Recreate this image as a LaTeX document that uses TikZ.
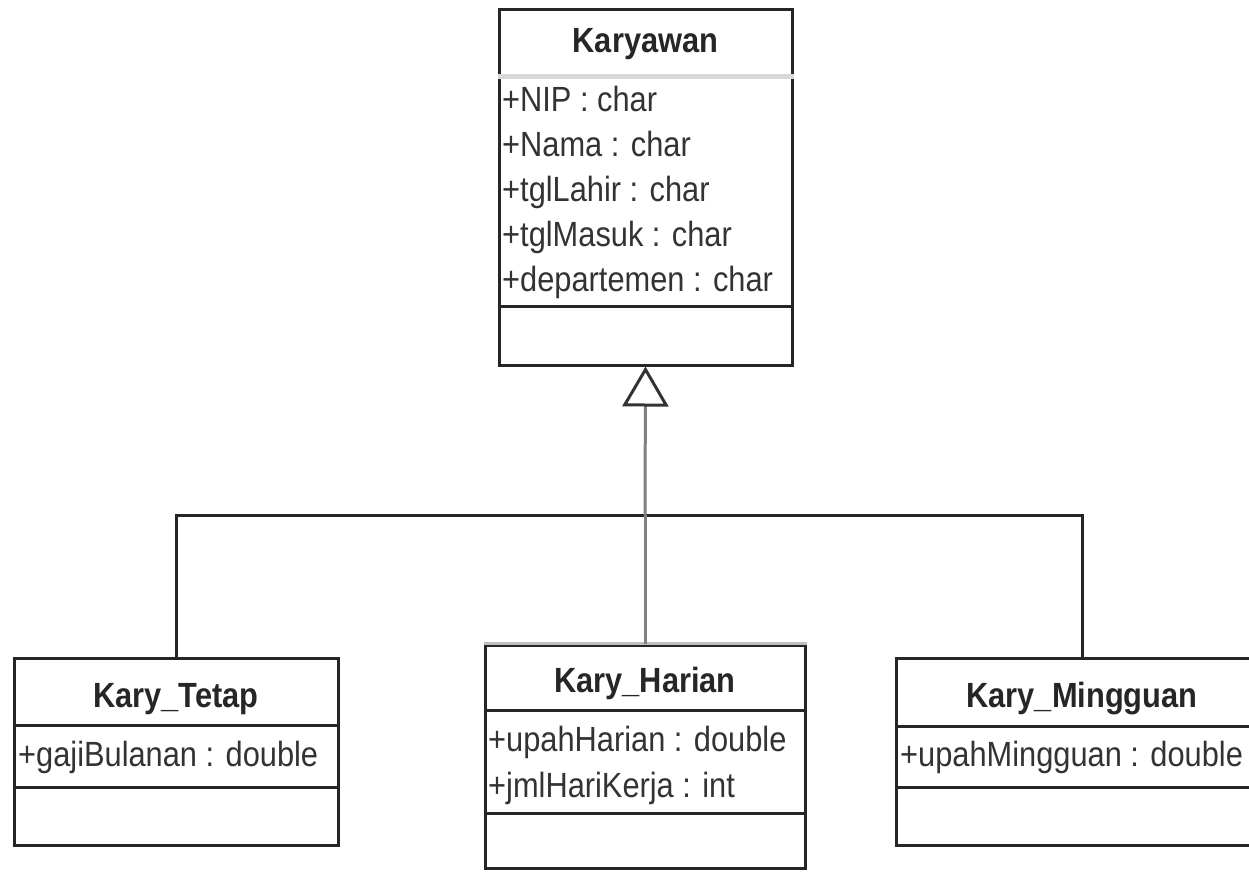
\documentclass[tikz,border=0pt]{standalone}
\usepackage{fontspec}
\setmainfont{Liberation Sans}[FakeStretch=0.88]
\usetikzlibrary{arrows.meta}
\begin{document}
\begin{tikzpicture}[x=1pt,y=-1pt,
  box/.style={draw=black!85, line width=3pt, fill=white, inner sep=0pt},
  sep/.style={draw=black!85, line width=3pt},
  lsep/.style={draw=black!15, line width=5pt},
  title/.style={font=\fontsize{35}{42}\selectfont\bfseries, text=black!85, inner sep=0pt, anchor=base},
  attr/.style={font=\fontsize{35}{42}\selectfont, text=black!80, inner sep=0pt, anchor=base west},
  conn/.style={line width=3pt, draw=black!85},
  gconn/.style={line width=3pt, draw=black!50}]
\useasboundingbox (0,0) rectangle (1249,880);
\clip (0,0) rectangle (1249,880);

% ---- Karyawan ----
\node[box, minimum width=293pt, minimum height=355pt] (kary) at (645.5,187.5) {};
\draw[lsep] ([yshift=-68pt]kary.north west) -- ([yshift=-68pt]kary.north east);
\draw[sep] ([yshift=60pt]kary.south west) -- ([yshift=60pt]kary.south east);
\node[title] (karyT) at (645.5,53) {Karyawan};
\node[attr] (k1) at (502,111) {+NIP : char};
\node[attr] (k2) at (502,156) {+Nama : char};
\node[attr] (k3) at (502,201) {+tglLahir : char};
\node[attr] (k4) at (502,246) {+tglMasuk : char};
\node[attr] (k5) at (502,291) {+departemen : char};

% ---- Kary_Tetap ----
\node[box, minimum width=324pt, minimum height=187pt] (tetap) at (176,751.5) {};
\draw[sep] ([yshift=-69pt]tetap.north west) -- ([yshift=-69pt]tetap.north east);
\draw[sep] ([yshift=59pt]tetap.south west) -- ([yshift=59pt]tetap.south east);
\node[title] (tetapT) at (176,707) {Kary\_Tetap};
\node[attr] (t1) at (18,766) {+gajiBulanan : double};

% ---- Kary_Harian ----
\node[box, minimum width=320pt, minimum height=223pt] (harian) at (645,756.5) {};
\draw[draw=black!25, line width=3pt] (harian.north west) -- (harian.north east);
\draw[sep] ([yshift=-67pt]harian.north west) -- ([yshift=-67pt]harian.north east);
\draw[sep] ([yshift=56pt]harian.south west) -- ([yshift=56pt]harian.south east);
\node[title] (harianT) at (645,692) {Kary\_Harian};
\node[attr] (h1) at (488,751) {+upahHarian : double};
\node[attr] (h2) at (488,797) {+jmlHariKerja : int};

% ---- Kary_Mingguan ----
\node[box, minimum width=372pt, minimum height=187pt] (mingguan) at (1082,751.5) {};
\draw[sep] ([yshift=-70pt]mingguan.north west) -- ([yshift=-70pt]mingguan.north east);
\draw[sep] ([yshift=59pt]mingguan.south west) -- ([yshift=59pt]mingguan.south east);
\node[title] (mingguanT) at (1082,707) {Kary\_Mingguan};
\node[attr] (m1) at (900,766) {+upahMingguan : double};

% ---- generalization ----
\coordinate (bar) at (645,515);
\draw[conn] (tetap.north) |- (bar) -| (mingguan.north);
\draw[gconn] (harian.north) -- (bar);
\draw[gconn, -{Triangle[open, length=40pt, width=46pt, line width=3pt, color=black!80]}] (bar) -- (kary.south);
\end{tikzpicture}
\end{document}
